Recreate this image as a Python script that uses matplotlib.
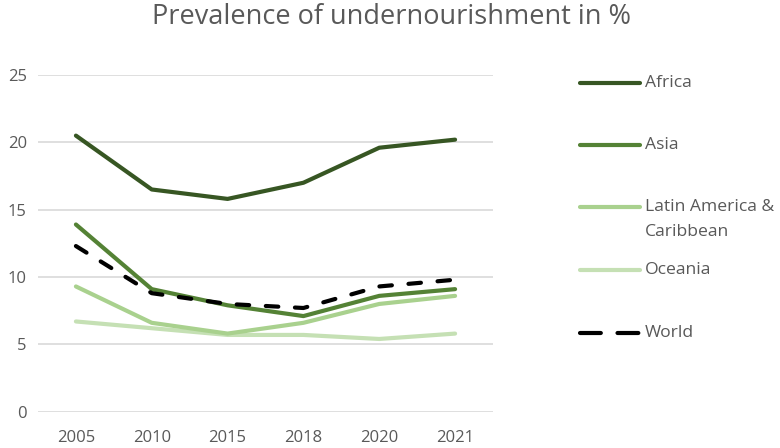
import matplotlib
matplotlib.use("Agg")
import matplotlib.pyplot as plt
from matplotlib.lines import Line2D

years = ["2005", "2010", "2015", "2018", "2020", "2021"]
africa = [20.5, 16.5, 15.8, 17.0, 19.6, 20.2]
asia = [13.9, 9.1, 7.9, 7.1, 8.6, 9.1]
latam = [9.3, 6.6, 5.8, 6.6, 8.0, 8.6]
oceania = [6.7, 6.2, 5.7, 5.7, 5.4, 5.8]
world = [12.3, 8.8, 8.0, 7.7, 9.3, 9.8]
labels = ["Africa", "Asia", "Latin America &\nCaribbean", "Oceania", "World"]
yticks = [0, 5, 10, 15, 20, 25]

colors = ["#375623", "#548235", "#A9D18E", "#C5E0B4", "#000000"]
series = [africa, asia, latam, oceania, world]

plt.rcParams['font.family'] = ['Open Sans', 'DejaVu Sans']
W, H = 780, 448
fig = plt.figure(figsize=(7.8, 4.48), dpi=100)
ax = fig.add_axes([38 / W, 1 - 411.7 / H, (493 - 38) / W, (411.7 - 75) / H])

x = list(range(len(years)))
order = [3, 2, 1, 0, 4]
for i in order:
    if i == 4:
        ax.plot(x, series[i], color=colors[i], lw=3, linestyle=(0, (3, 4)),
                dash_capstyle='round', zorder=5)
    else:
        ax.plot(x, series[i], color=colors[i], lw=3, solid_capstyle='round',
                solid_joinstyle='round', zorder=3)

ax.set_xlim(-0.5, len(years) - 0.5)
ax.set_ylim(0, 25)
ax.set_yticks(yticks)
ax.set_yticklabels([str(t) for t in yticks])
ax.set_xticks(x)
ax.set_xticklabels(years)
ax.grid(axis='y', color='#D9D9D9', lw=1.2)
ax.set_axisbelow(True)
for s in ax.spines.values():
    s.set_visible(False)
ax.tick_params(axis='both', length=0, labelsize=12, colors='#595959')
ax.tick_params(axis='y', pad=8)
ax.tick_params(axis='x', pad=13.5)

fig.text(392 / W, 1 - 17 / H, "Prevalence of undernourishment in %", ha='center', va='center',
         fontsize=19.5, color='#595959')

# legend
ys = [83, 145, 207, 270, 333]
for i in range(5):
    y = 1 - ys[i] / H
    if i == 4:
        ln = Line2D([580 / W, 640 / W], [y, y], transform=fig.transFigure, color=colors[i], lw=3,
                    linestyle=(0, (5, 4)), dash_capstyle='round')
    else:
        ln = Line2D([580 / W, 640 / W], [y, y], transform=fig.transFigure, color=colors[i], lw=3,
                    solid_capstyle='round')
    fig.add_artist(ln)
    for k, line in enumerate(labels[i].split('\n')):
        fig.text(645 / W, y - k * 25 / H, line, ha='left', va='center',
                 fontsize=12.6, color='#595959')

fig.savefig("out.png", dpi=100)
